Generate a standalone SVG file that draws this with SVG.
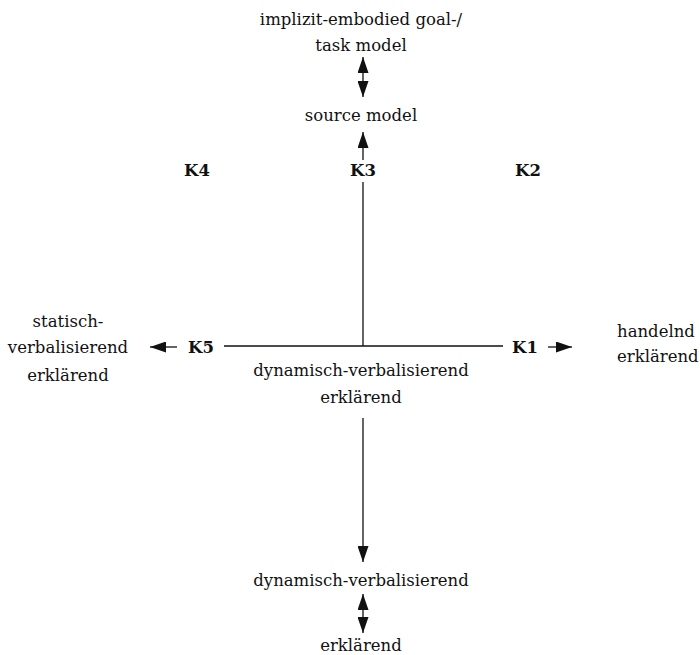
<svg xmlns="http://www.w3.org/2000/svg" width="700" height="655" viewBox="0 0 700 655">
<style>
text{font-family:"DejaVu Serif",serif;font-size:16.5px;fill:#111;text-anchor:middle}
.b{font-weight:bold}
.l{text-anchor:start}
.ln{stroke:#111;stroke-width:1.3;fill:none}
</style>
<defs>
<marker id="ahb" viewBox="0 0 16 11" refX="16" refY="5.5" markerWidth="16" markerHeight="11" markerUnits="userSpaceOnUse" orient="auto-start-reverse">
<path d="M0,0 L16,5.5 L0,11 z" fill="#111"/>
</marker>
</defs>
<g id="top"><text x="361" y="25">implizit-embodied goal-/</text><text x="361" y="51">task model</text></g>
<g id="source"><text x="361" y="121">source model</text></g>
<g id="k3"><text class="b" x="363" y="176">K3</text></g>
<g id="k4"><text class="b" x="197" y="176">K4</text></g>
<g id="k2"><text class="b" x="528" y="176">K2</text></g>
<g id="k5"><text class="b" x="201" y="353">K5</text></g>
<g id="k1"><text class="b" x="525" y="353">K1</text></g>
<g id="left"><text x="68" y="327">statisch-</text><text x="68" y="353">verbalisierend</text><text x="68" y="381">erklärend</text></g>
<g id="right"><text class="l" x="617" y="337">handelnd</text><text class="l" x="617" y="362">erklärend</text></g>
<g id="center"><text x="361" y="376">dynamisch-verbalisierend</text><text x="361" y="403">erklärend</text></g>
<g id="bottom1"><text x="361" y="586">dynamisch-verbalisierend</text></g>
<g id="bottom2"><text x="361" y="651">erklärend</text></g>
<g id="connectors">
<line class="ln" x1="363" y1="57" x2="363" y2="97" marker-start="url(#ahb)" marker-end="url(#ahb)"/>
<line class="ln" x1="363" y1="160" x2="363" y2="132" marker-end="url(#ahb)"/>
<line class="ln" x1="363" y1="182" x2="363" y2="346"/>
<line class="ln" x1="224" y1="346" x2="503" y2="346"/>
<line class="ln" x1="177" y1="347" x2="150" y2="347" marker-end="url(#ahb)"/>
<line class="ln" x1="548" y1="347" x2="572" y2="347" marker-end="url(#ahb)"/>
<line class="ln" x1="363" y1="418" x2="363" y2="562" marker-end="url(#ahb)"/>
<line class="ln" x1="363" y1="594" x2="363" y2="633" marker-start="url(#ahb)" marker-end="url(#ahb)"/>
</g>
</svg>
